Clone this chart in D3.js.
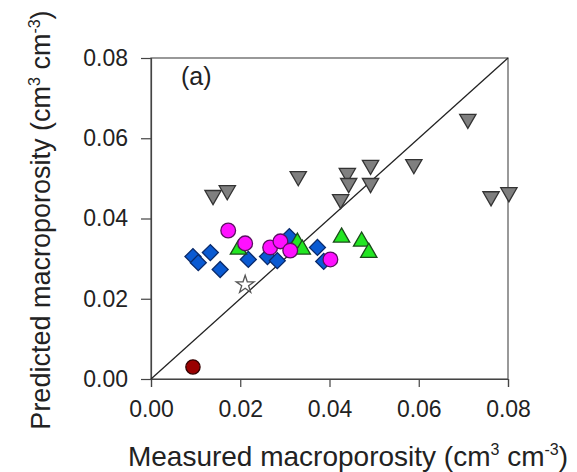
<!DOCTYPE html>
<html><head><meta charset="utf-8">
<script src="https://cdn.jsdelivr.net/npm/d3@7"></script>
<style>body{margin:0;background:#fff}svg{display:block}text{font-family:"Liberation Sans",Arial,sans-serif;fill:#222}</style>
</head><body><div id="chart"></div>
<script>
const xTicks = [0, 0.02, 0.04, 0.06, 0.08];
const yTicks = [0, 0.02, 0.04, 0.06, 0.08];
const grayTri = [[0.0139,0.0458],[0.0171,0.0470],[0.0330,0.0505],[0.0440,0.0513],[0.0443,0.0488],[0.0492,0.0533],[0.0492,0.0488],[0.0425,0.0448],[0.0589,0.0535],[0.0710,0.0648],[0.0762,0.0455],[0.0802,0.0465]];
const greenTri = [[0.0196,0.0323],[0.0328,0.0340],[0.0339,0.0323],[0.0427,0.0353],[0.0472,0.0343],[0.0488,0.0315]];
const blueDia = [[0.0094,0.0305],[0.0106,0.0290],[0.0133,0.0315],[0.0155,0.0273],[0.0218,0.0298],[0.0261,0.0305],[0.0283,0.0295],[0.0310,0.0355],[0.0373,0.0328],[0.0387,0.0293]];
const magCirc = [[0.0173,0.0370],[0.0211,0.0338],[0.0267,0.0328],[0.0290,0.0343],[0.0312,0.0320],[0.0402,0.0298]];
const star = [[0.0211,0.0235]];
const redCirc = [[0.0094,0.0030]];

const W = 577, H = 472;
const svg = d3.select("#chart").append("svg").attr("width", W).attr("height", H);
const x = d3.scaleLinear().domain([0, 0.08]).range([151, 508]);
const y = d3.scaleLinear().domain([0, 0.08]).range([379, 58]);

svg.append("rect").attr("x", x(0)).attr("y", y(0.08)).attr("width", x(0.08) - x(0)).attr("height", y(0) - y(0.08))
  .attr("fill", "none").attr("stroke", "#555").attr("stroke-width", 1.2);

const fmt = d3.format(".2f");
const xa = svg.append("g").attr("transform", `translate(0,${y(0)})`)
  .call(d3.axisBottom(x).tickValues(xTicks).tickFormat(fmt).tickSize(8).tickPadding(14));
const ya = svg.append("g").attr("transform", `translate(${x(0)},0)`)
  .call(d3.axisLeft(y).tickValues(yTicks).tickFormat(fmt).tickSize(10).tickPadding(13));
[xa, ya].forEach(a => {
  a.selectAll("path").attr("stroke", "#444").attr("stroke-width", 1.2);
  a.selectAll("line").attr("stroke", "#444").attr("stroke-width", 1.2);
  a.selectAll("text").style("font-size", "23px").attr("fill", "#222").style("font-family", '"Liberation Sans",Arial,sans-serif');
});

svg.append("line").attr("x1", x(0)).attr("y1", y(0)).attr("x2", x(0.08)).attr("y2", y(0.08))
  .attr("stroke", "#222").attr("stroke-width", 1.3);

const sym = (type, size) => d3.symbol().type(type).size(size)();
function draw(data, type, size, fill, stroke, rot) {
  svg.append("g").selectAll("path").data(data).join("path")
    .attr("d", sym(type, size))
    .attr("transform", d => `translate(${x(d[0])},${y(d[1])})${rot ? " rotate(" + rot + ")" : ""}`)
    .attr("fill", fill).attr("stroke", stroke).attr("stroke-width", 1.3);
}
draw(grayTri, d3.symbolTriangle, 115, "#7f7f7f", "#333", 180);
draw(blueDia, d3.symbolSquare, 128, "#0a5ad2", "#0a2a6a", 45);
draw(greenTri, d3.symbolTriangle, 115, "#22e622", "#1a4a1a", 0);
draw(magCirc, d3.symbolCircle, 170, "#ff10ff", "#5a1060", 0);
draw(star, d3.symbolStar, 100, "#fff", "#555", 0);
draw(redCirc, d3.symbolCircle, 160, "#990000", "#330000", 0);

svg.append("text").attr("x", 181).attr("y", 85).style("font-size", "25px").text("(a)");

function label(t, txt, fs, sup) {
  t.style("font-size", fs + "px");
  t.append("tspan").text(txt + " (cm");
  t.append("tspan").attr("dy", -sup).style("font-size", "16px").text("3");
  t.append("tspan").attr("dy", sup).text(" cm");
  t.append("tspan").attr("dy", -sup).style("font-size", "16px").text("-3");
  t.append("tspan").attr("dy", sup).text(")");
}
const xl = svg.append("text").attr("x", 348).attr("y", 466).attr("text-anchor", "middle");
label(xl, "Measured macroporosity", 28, 11);
const yl = svg.append("text").attr("transform", "translate(50,220) rotate(-90)").attr("text-anchor", "middle");
label(yl, "Predicted macroporosity", 27, 10);
</script></body></html>
